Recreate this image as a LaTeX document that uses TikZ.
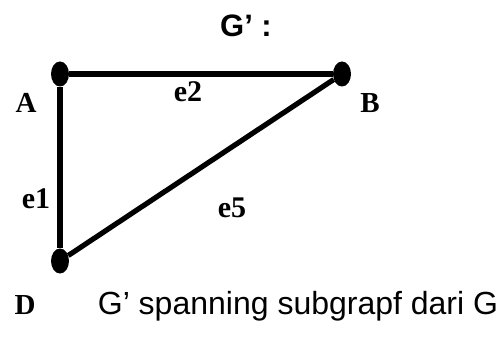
\documentclass[tikz,border=0pt]{standalone}
\usepackage{fontspec}
\setmainfont{Liberation Serif}
\setsansfont{Liberation Sans}
\usepackage{tikz}
\usetikzlibrary{positioning,shapes.geometric}
\tikzset{
  vertex/.style={ellipse,fill=black,minimum width=18pt,minimum height=25pt,inner sep=0pt},
  vlabel/.style={font=\fontsize{29}{32}\selectfont\bfseries},
  elabel/.style={font=\fontsize{30}{32}\selectfont\bfseries},
  graphedge/.style={line width=5.2pt}
}

\begin{document}
\begin{tikzpicture}[x=1pt,y=1pt]
  \useasboundingbox (0,0) rectangle (502,353);
  \node[font=\sffamily\bfseries\fontsize{31}{34}\selectfont] (title) at (246,327) {G’ :};
  \node[vertex] (A) at (60,279) {};
  \node[vertex] (B) at (342,279) {};
  \node[vertex] (D) at (60,92) {};
  \draw[graphedge] (A) -- (B);
  \draw[graphedge] (A) -- (D);
  \draw[graphedge] (D) -- (B);
  \node[vlabel] (la) at (26,250) {A};
  \node[vlabel] (lb) at (370,250) {B};
  \node[vlabel] (ld) at (25,48) {D};
  \node[elabel] (e2) at (188,261) {e2};
  \node[elabel] (e1) at (36,154) {e1};
  \node[elabel] (e5) at (232,145) {e5};
  \node[font=\sffamily\fontsize{32}{35}\selectfont] (cap) at (298,47) {G’ spanning subgrapf dari G};
\end{tikzpicture}
\end{document}
